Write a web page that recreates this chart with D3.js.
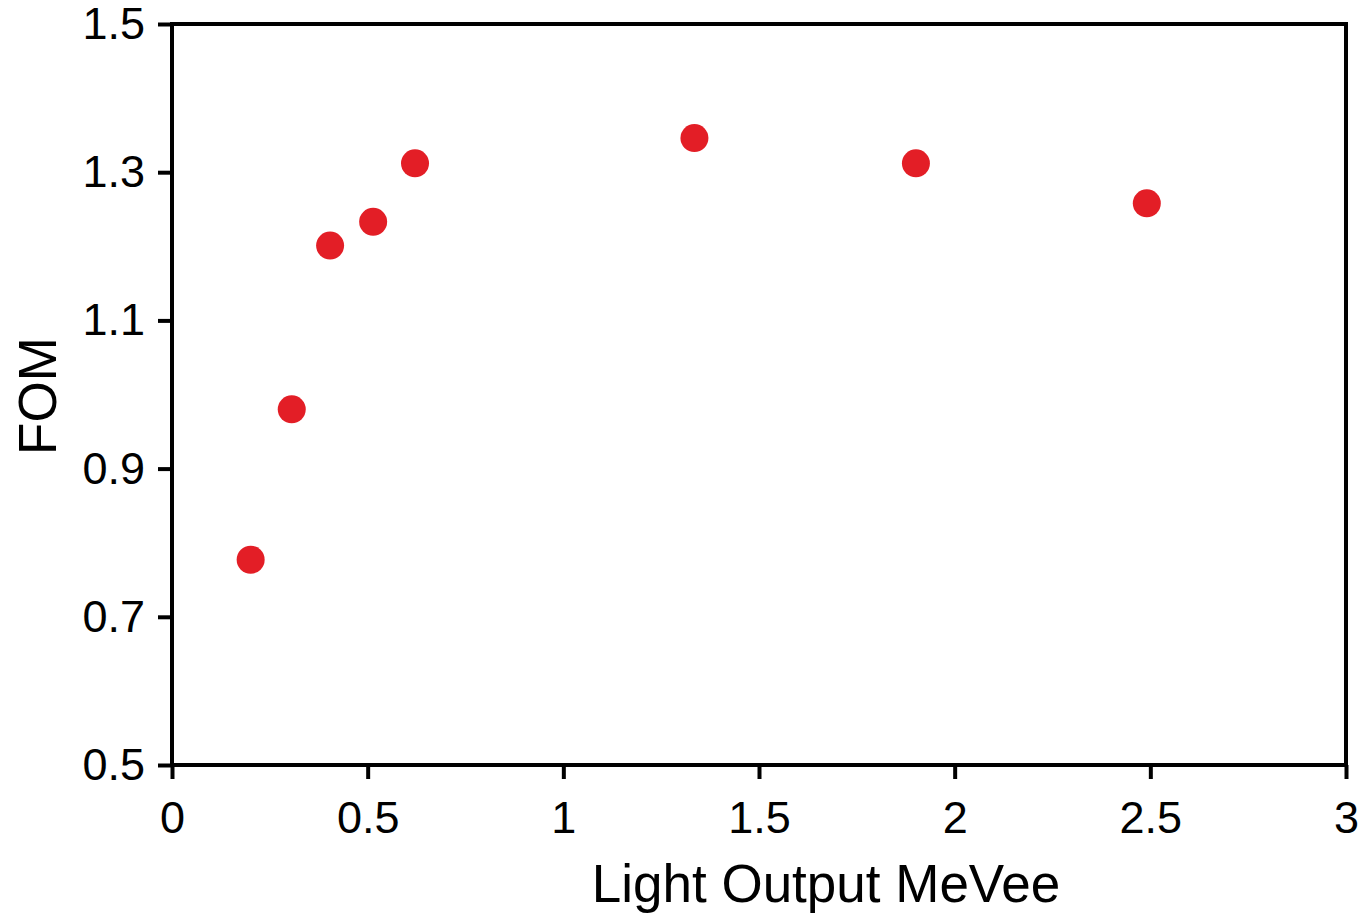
<!DOCTYPE html>
<html>
<head>
<meta charset="utf-8">
<script src="https://cdn.jsdelivr.net/npm/d3@7"></script>
<style>
  body { margin: 0; background: #fff; }
  svg text { font-family: "Liberation Sans", Arial, sans-serif; fill: #000; }
</style>
</head>
<body>
<div id="chart"></div>
<script>
// data
var lightOutput = [0.201, 0.306, 0.404, 0.514, 0.621, 1.335, 1.901, 2.491];
var fom = [0.777, 0.980, 1.201, 1.233, 1.312, 1.346, 1.312, 1.258];
var xTicks = [0, 0.5, 1, 1.5, 2, 2.5, 3];
var xTickLabels = ["0", "0.5", "1", "1.5", "2", "2.5", "3"];
var yTicks = [0.5, 0.7, 0.9, 1.1, 1.3, 1.5];
var yTickLabels = ["0.5", "0.7", "0.9", "1.1", "1.3", "1.5"];

var W = 1358, H = 915;
var margin = {top: 24, right: 12, bottom: 150, left: 172};
var width = W - margin.left - margin.right,
    height = H - margin.top - margin.bottom;

var svg = d3.select("#chart").append("svg")
    .attr("width", W)
    .attr("height", H)
  .append("g")
    .attr("transform", "translate(" + margin.left + "," + margin.top + ")");

var x = d3.scaleLinear().domain([0, 3]).range([0, width]);
var y = d3.scaleLinear().domain([0.5, 1.5]).range([height, 0]);

// x axis
var xAxis = svg.append("g")
    .attr("transform", "translate(0," + height + ")")
    .call(d3.axisBottom(x)
        .tickValues(xTicks)
        .tickFormat(function(d, i) { return xTickLabels[i]; })
        .tickSize(14)
        .tickPadding(22)
        .tickSizeOuter(0));
xAxis.select(".domain").remove();
xAxis.selectAll("line").attr("stroke", "#000").attr("stroke-width", 4);
xAxis.selectAll("text").style("font-size", "45px").attr("font-family", null);

// y axis
var yAxis = svg.append("g")
    .call(d3.axisLeft(y)
        .tickValues(yTicks)
        .tickFormat(function(d, i) { return yTickLabels[i]; })
        .tickSize(14)
        .tickPadding(13)
        .tickSizeOuter(0));
yAxis.select(".domain").remove();
yAxis.selectAll("line").attr("stroke", "#000").attr("stroke-width", 4);
yAxis.selectAll("text").style("font-size", "45px").attr("font-family", null);

// frame
svg.append("rect")
    .attr("x", 0)
    .attr("y", 0)
    .attr("width", width)
    .attr("height", height)
    .attr("fill", "none")
    .attr("stroke", "#000")
    .attr("stroke-width", 4);

// points
svg.selectAll("circle.pt")
    .data(lightOutput)
    .enter().append("circle")
    .attr("class", "pt")
    .attr("cx", function(d) { return x(d); })
    .attr("cy", function(d, i) { return y(fom[i]); })
    .attr("r", 14)
    .attr("fill", "#e31e26");

// axis titles
svg.append("text")
    .attr("x", 654)
    .attr("y", height + 137)
    .style("text-anchor", "middle")
    .style("font-size", "53px")
    .text("Light Output MeVee");

svg.append("text")
    .attr("transform", "translate(" + (56 - margin.left) + "," + (396 - margin.top) + ") rotate(-90)")
    .style("text-anchor", "middle")
    .style("font-size", "53px")
    .text("FOM");
</script>
</body>
</html>
